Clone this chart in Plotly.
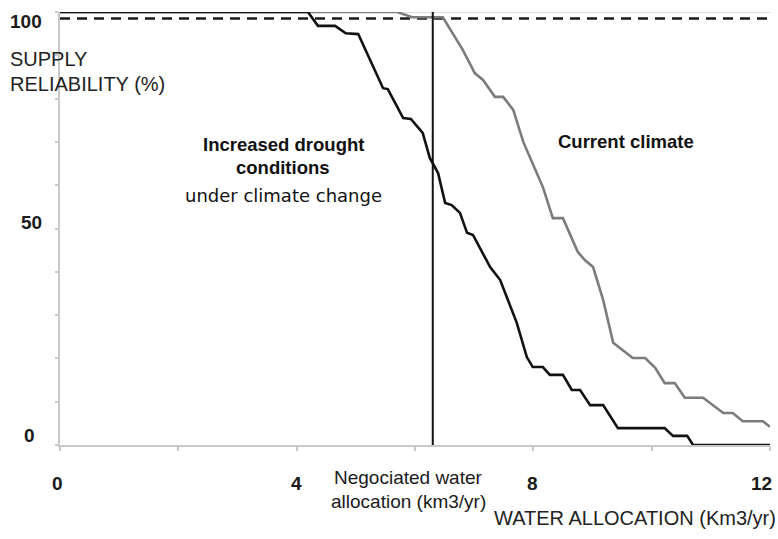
import plotly.graph_objects as go

# Supply reliability (%) versus water allocation (km3/yr)
alloc_current = [0.0, 5.70, 5.95, 6.47, 6.81, 7.01, 7.15, 7.35, 7.49, 7.66, 7.83, 8.16,
                 8.33, 8.50, 8.75, 8.87, 9.01, 9.18, 9.35, 9.68, 9.89, 10.06, 10.22,
                 10.39, 10.56, 10.87, 11.21, 11.37, 11.54, 11.88, 12.0]
rel_current = [100, 100, 98.8, 98.8, 91.2, 85.9, 84.3, 80.4, 80.4, 77.4, 70.0, 59.6,
               52.4, 52.4, 44.6, 42.7, 41.1, 33.5, 23.6, 20.1, 20.1, 17.8, 14.3,
               14.3, 10.9, 10.9, 7.4, 7.4, 5.5, 5.5, 4.2]

alloc_drought = [0.0, 4.19, 4.36, 4.65, 4.83, 5.04, 5.46, 5.54, 5.80, 5.93, 6.13, 6.25,
                 6.39, 6.51, 6.62, 6.76, 6.88, 6.98, 7.27, 7.44, 7.57, 7.72, 7.89,
                 7.99, 8.16, 8.28, 8.50, 8.65, 8.79, 8.96, 9.18, 9.43, 10.22, 10.36,
                 10.60, 10.70, 12.0]
rel_drought = [100, 100, 96.8, 96.8, 95.1, 94.9, 82.4, 82.2, 75.5, 75.3, 72.1, 66.3,
               62.8, 55.9, 55.4, 53.6, 49.0, 48.5, 41.1, 38.1, 33.5, 28.2, 20.3,
               18.0, 18.0, 16.2, 16.2, 12.7, 12.7, 9.2, 9.2, 3.9, 3.9, 2.1,
               2.1, 0.0, 0.0]

negotiated_allocation = 6.3
target_reliability = 98.5

x_tick_labels = ["0", "4", "8", "12"]
y_tick_labels = ["0", "50", "100"]

X_MAX = 12.0
Y_MAX = 100.0

ARIAL = "Arial, Liberation Sans, sans-serif"
DEJAVU = "DejaVu Sans, Verdana, sans-serif"

fig = go.Figure()

# reliability target (dashed)
fig.add_trace(go.Scatter(
    x=[0, X_MAX], y=[target_reliability, target_reliability], mode="lines",
    line=dict(color="#1a1a1a", width=2.5, dash="10px,7px"), hoverinfo="skip"))

fig.add_trace(go.Scatter(
    x=alloc_current, y=rel_current, mode="lines", name="Current climate",
    line=dict(color="#7c7c7c", width=2.6)))

fig.add_trace(go.Scatter(
    x=alloc_drought, y=rel_drought, mode="lines", name="Climate change",
    line=dict(color="#111111", width=2.6)))

# negotiated allocation marker line
fig.add_trace(go.Scatter(
    x=[negotiated_allocation, negotiated_allocation], y=[0, Y_MAX], mode="lines",
    line=dict(color="#111111", width=2), hoverinfo="skip"))

# top frame line
fig.add_shape(type="line", xref="x", yref="y", x0=0, x1=X_MAX, y0=Y_MAX, y1=Y_MAX,
              line=dict(color="#cfcfcf", width=1.5), layer="below")

annotations = []


def note(text, x, y, size, bold=False, family=ARIAL, xanchor="center",
         color="#111111"):
    """Place a label at data-unit coordinates (may lie outside the axes)."""
    if bold:
        text = "<b>" + text + "</b>"
    annotations.append(dict(
        text=text, x=x / X_MAX, y=y / Y_MAX, xref="paper", yref="paper",
        showarrow=False, xanchor=xanchor, yanchor="middle", align="center",
        font=dict(family=family, size=size, color=color)))


# y tick labels
for lbl, xv, yv in zip(y_tick_labels, [-0.508, -0.474, -0.575], [2.1, 51.5, 97.7]):
    note(lbl, xv, yv, 19, bold=True, color="#1a1a1a")

# x tick labels
for lbl, xv in zip(x_tick_labels, [-0.05, 4.0, 7.98, 11.85]):
    note(lbl, xv, -8.8, 19, bold=True, color="#1a1a1a")

# axis titles
note("SUPPLY", -0.88, 89.1, 20, xanchor="left", color="#222222")
note("RELIABILITY (%)", -0.88, 83.4, 20, xanchor="left", color="#222222")
note("WATER ALLOCATION (Km3/yr)", 12.13, -16.9, 20, xanchor="right", color="#222222")

# in-plot labels
note("Increased drought", 3.775, 69.3, 18.5, bold=True)
note("conditions", 3.775, 64.0, 18.5, bold=True)
note("under climate change", 3.775, 57.7, 18, family=DEJAVU)
note("Current climate", 9.56, 70.0, 18.5, bold=True)
note("Negociated water", 5.89, -7.6, 19, color="#1a1a1a")
note("allocation (km3/yr)", 5.89, -13.0, 19, color="#1a1a1a")

fig.update_layout(
    width=778, height=539,
    margin=dict(l=60, r=8, t=12, b=94),
    paper_bgcolor="white", plot_bgcolor="white",
    showlegend=False,
    annotations=annotations,
    xaxis=dict(range=[0, X_MAX], dtick=2, tick0=0, showticklabels=False,
               ticks="outside", ticklen=4, tickcolor="#c8c8c8", tickwidth=1.5,
               showline=True, linecolor="#c8c8c8", linewidth=1.5,
               showgrid=False, zeroline=False),
    yaxis=dict(range=[0, Y_MAX], dtick=10, tick0=0, showticklabels=False,
               ticks="outside", ticklen=3, tickcolor="#c8c8c8", tickwidth=1.5,
               showline=True, linecolor="#c8c8c8", linewidth=1.5,
               showgrid=False, zeroline=False),
)

fig.write_html("out.html")
